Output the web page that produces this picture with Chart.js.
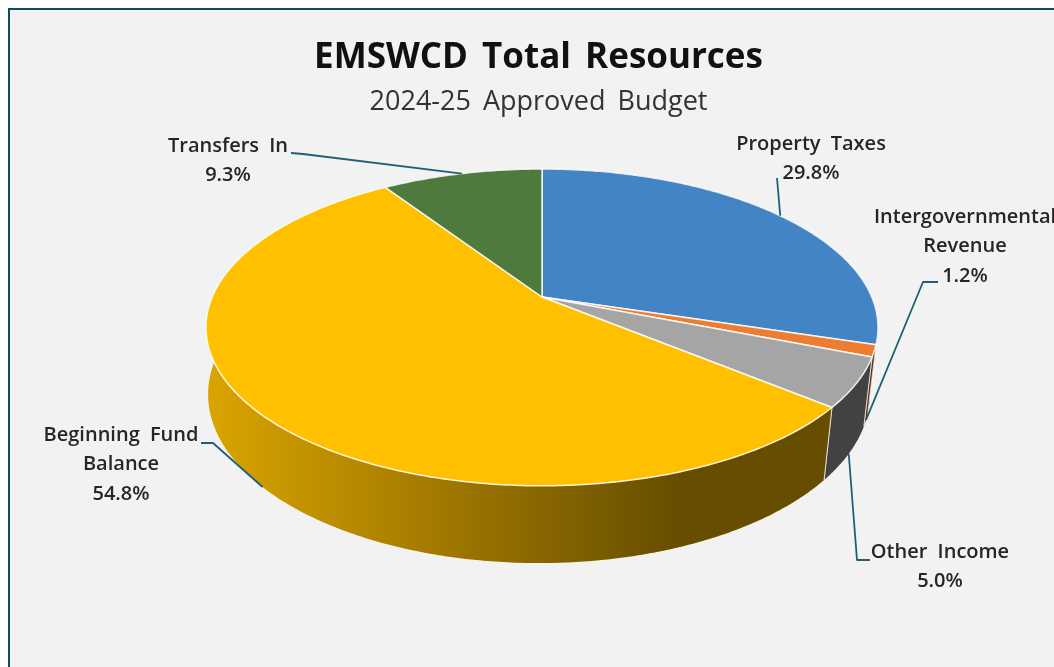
<!DOCTYPE html>
<html>
<head>
<meta charset="utf-8">
<title>EMSWCD Total Resources</title>
<script src="https://cdn.jsdelivr.net/npm/chart.js@4"></script>
<style>
    html, body { margin: 0; padding: 0; background: #fff; overflow: hidden; }
    #frame { position: absolute; left: 8px; top: 8px; width: 1046px; height: 659px; background: #f2f2f2;
        border-left: 2px solid #0f4c5f; border-top: 2px solid #0f4c5f; box-sizing: border-box; }
    #wrap { position: absolute; left: 0; top: 0; width: 1054px; height: 667px; }
</style>
</head>
<body>
<div id="frame"></div>
<div id="wrap"><canvas id="pie" width="1054" height="667"></canvas></div>
<script>
const categories = ['Property Taxes', 'Intergovernmental Revenue', 'Other Income', 'Beginning Fund Balance', 'Transfers In'];
const shares = [29.8, 1.2, 5.0, 54.8, 9.3];
const sliceColors = ['#4284c4', '#ed7d31', '#a5a5a5', '#ffc000', '#4f7a3e'];

// label text lines, centre x, first line y, and the leader's free end
const labelLines = [['Property Taxes'], ['Intergovernmental', 'Revenue'], ['Other Income'], ['Beginning Fund', 'Balance'], ['Transfers In']];
const labelX = [811, 965, 940, 121, 228];
const labelY = [144, 217, 552, 435, 146];
const leaderEnds = [
    [[777, 178]],
    [[938, 282], [923, 282]],
    [[870, 560], [857, 560]],
    [[201, 443], [213, 443]],
    [[291, 153], [303, 154]]
];

// perspective of the tilted disc, all relative to the pie radius
const persp = { a: 1.924, b: 0.89, k: 0.192, depthY: 0.3875, depthD: 0.015, depthX: -3, shiftX: 3.5 };

function project(arc, angle, h) {
    const u = Math.cos(angle), v = Math.sin(angle);
    const d = 1 - persp.k * v + persp.depthD * h;
    return {
        x: arc.x + persp.shiftX + persp.depthX * h + persp.a * arc.outerRadius * u / d,
        y: arc.y + (persp.b * v + persp.depthY * h) * arc.outerRadius / d
    };
}

function rim(ctx, arc, from, to, h) {
    const steps = Math.max(2, Math.ceil(Math.abs(to - from) / 0.01));
    for (let i = 0; i <= steps; i++) {
        const p = project(arc, from + (to - from) * i / steps, h);
        ctx.lineTo(p.x, p.y);
    }
}

const pie3d = {
    id: 'pie3d',
    beforeDraw(chart) {
        chart.ctx.wordSpacing = '5px';
    },
    beforeDatasetDraw(chart, args) {
        const ctx = chart.ctx;
        const arcs = chart.getDatasetMeta(args.index).data;
        const first = arcs[0];
        const left = project(first, Math.PI, 0).x;
        const right = project(first, 0, 0).x;

        // side walls, back ones first
        const order = arcs.map((a, i) => i).sort((p, q) =>
            Math.sin((arcs[p].startAngle + arcs[p].endAngle) / 2) - Math.sin((arcs[q].startAngle + arcs[q].endAngle) / 2));
        const shade = ctx.createLinearGradient(left, 0, right, 0);
        shade.addColorStop(0, 'rgba(0,0,0,0.15)');
        shade.addColorStop(0.705, 'rgba(0,0,0,0.6)');
        shade.addColorStop(1, 'rgba(0,0,0,0.6)');
        order.forEach(i => {
            const arc = arcs[i];
            ctx.beginPath();
            rim(ctx, arc, arc.startAngle, arc.endAngle, 0);
            rim(ctx, arc, arc.endAngle, arc.startAngle, 1);
            ctx.closePath();
            ctx.fillStyle = sliceColors[i];
            ctx.fill();
            ctx.fillStyle = shade;
            ctx.fill();
            [arc.startAngle, arc.endAngle].forEach(t => {
                if (Math.sin(t) <= 0) return;
                const p0 = project(arc, t, 0), p1 = project(arc, t, 1);
                ctx.beginPath();
                ctx.moveTo(p0.x, p0.y);
                ctx.lineTo(p1.x, p1.y);
                ctx.strokeStyle = 'rgba(255,255,255,0.7)';
                ctx.lineWidth = 1;
                ctx.stroke();
            });
        });

        // top face
        arcs.forEach((arc, i) => {
            ctx.beginPath();
            ctx.moveTo(arc.x + persp.shiftX, arc.y);
            rim(ctx, arc, arc.startAngle, arc.endAngle, 0);
            ctx.closePath();
            ctx.fillStyle = sliceColors[i];
            ctx.fill();
            ctx.strokeStyle = 'rgba(255,255,255,0.85)';
            ctx.lineWidth = 1.5;
            ctx.lineJoin = 'round';
            ctx.stroke();
        });
        return false;
    },
    afterDatasetsDraw(chart) {
        const ctx = chart.ctx;
        chart.getDatasetMeta(0).data.forEach((arc, i) => {
            // leader goes to the middle of the slice, on the lower rim when the slice faces us
            const mid = (arc.startAngle + arc.endAngle) / 2;
            const tip = project(arc, mid, Math.sin(mid) > 0 ? 1 : 0);
            ctx.beginPath();
            leaderEnds[i].forEach((p, j) => j ? ctx.lineTo(p[0], p[1]) : ctx.moveTo(p[0], p[1]));
            ctx.lineTo(tip.x, tip.y);
            ctx.strokeStyle = '#1f6078';
            ctx.lineWidth = 1.8;
            ctx.stroke();

            ctx.font = '600 20px "Open Sans"';
            ctx.fillStyle = '#262626';
            ctx.textAlign = 'center';
            ctx.textBaseline = 'middle';
            labelLines[i].concat(shares[i].toFixed(1) + '%').forEach((line, j) => {
                ctx.fillText(line, labelX[i], labelY[i] + j * 29.5);
            });
        });
    }
};

new Chart(document.getElementById('pie').getContext('2d'), {
    type: 'pie',
    data: {
        labels: categories,
        datasets: [{ data: shares, backgroundColor: sliceColors, borderWidth: 0 }]
    },
    options: {
        responsive: false,
        animation: false,
        layout: { padding: { left: 23, right: 0, top: 0, bottom: 198.6 } },
        plugins: {
            legend: { display: false },
            tooltip: { enabled: false },
            title: {
                display: true,
                text: 'EMSWCD Total Resources',
                color: '#111',
                font: { family: '"Open Sans"', size: 35, weight: 'bold', lineHeight: 1.2 },
                padding: { top: 37, bottom: 4 }
            },
            subtitle: {
                display: true,
                text: '2024-25 Approved Budget',
                color: '#333',
                font: { family: '"Open Sans"', size: 27, weight: 'normal', lineHeight: 1.2 },
                padding: { top: 2.8, bottom: 7.4 }
            }
        }
    },
    plugins: [pie3d]
});
</script>
</body>
</html>
